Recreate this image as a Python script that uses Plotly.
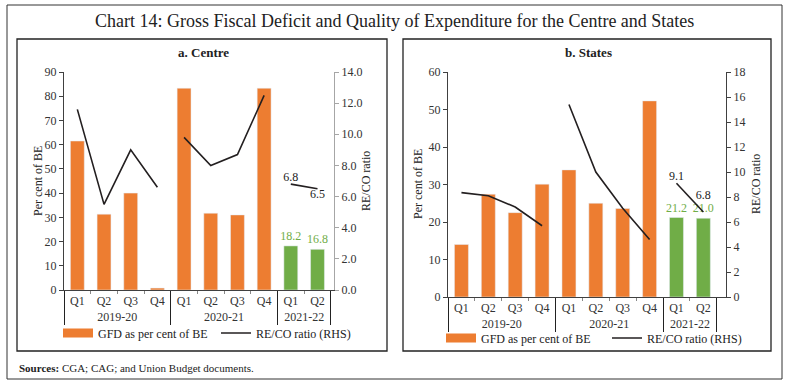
import plotly.graph_objects as go

# ---------------- data ----------------
years = ["2019-20"] * 4 + ["2020-21"] * 4 + ["2021-22"] * 2
quarters = ["Q1", "Q2", "Q3", "Q4", "Q1", "Q2", "Q3", "Q4", "Q1", "Q2"]

centre_gfd = [61.5, 31.3, 40.0, 0.8, 83.3, 31.7, 31.0, 83.3, 18.2, 16.8]
centre_reco = [11.6, 5.5, 9.0, 6.6, 9.8, 8.0, 8.7, 12.5, 6.8, 6.5]

states_gfd = [14.0, 27.4, 22.5, 30.1, 33.9, 25.0, 23.6, 52.3, 21.2, 21.0]
states_reco = [8.35, 8.1, 7.2, 5.7, 15.4, 10.0, 7.1, 4.6, 9.1, 6.8]

latest_year = "2021-22"

ORANGE = "#ED7D31"
GREEN = "#70AD47"
LINE = "#231F20"
FONT = "Liberation Serif"

W, H = 788, 387

fig = go.Figure()


def px_x(v):
    return v / W


def px_y(v):
    return 1 - v / H


def add_panel(gfd, reco, xa, ya, ya2, legend, label_pos, label_pad):
    xs_old = [[y for y in years if y != latest_year], [q for y, q in zip(years, quarters) if y != latest_year]]
    vals_old = [v for y, v in zip(years, gfd) if y != latest_year]
    xs_new = [[y for y in years if y == latest_year], [q for y, q in zip(years, quarters) if y == latest_year]]
    vals_new = [v for y, v in zip(years, gfd) if y == latest_year]
    fig.add_trace(go.Bar(x=xs_old, y=vals_old, marker_color=ORANGE, xaxis=xa, yaxis=ya,
                         showlegend=False, hoverinfo="skip"))
    fig.add_trace(go.Bar(x=xs_new, y=vals_new, marker_color=GREEN, xaxis=xa, yaxis=ya,
                         text=[f"{v:.1f}" for v in vals_new], textposition="outside",
                         constraintext="none",
                         textfont=dict(color=GREEN, size=12, family=FONT),
                         cliponaxis=False, showlegend=False, hoverinfo="skip"))
    # legend proxy for bars
    fig.add_trace(go.Scatter(x=[None], y=[None], mode="lines", line=dict(color=ORANGE, width=9),
                             name="GFD as per cent of BE", xaxis=xa, yaxis=ya, legend=legend))
    seen = []
    for yr in years:
        if yr in seen:
            continue
        seen.append(yr)
        qs = [q for y, q in zip(years, quarters) if y == yr]
        vs = [v for y, v in zip(years, reco) if y == yr]
        if yr == latest_year:
            kw = dict(mode="lines+markers+text", text=[f"{v:.1f}" for v in vs], textposition=label_pos,
                      marker=dict(size=label_pad, color="rgba(0,0,0,0)", line=dict(width=0)),
                      textfont=dict(size=12, color="#222", family=FONT))
        else:
            kw = dict(mode="lines")
        fig.add_trace(go.Scatter(x=[[yr] * len(qs), qs], y=vs, line=dict(color=LINE, width=1.6),
                                 xaxis=xa, yaxis=ya2, name="RE/CO ratio (RHS)",
                                 showlegend=(yr == years[0]), legend=legend, cliponaxis=False,
                                 hoverinfo="skip", **kw))


add_panel(centre_gfd, centre_reco, "x", "y", "y2", "legend", ["top center", "bottom center"], [0, 0])
add_panel(states_gfd, states_reco, "x2", "y3", "y4", "legend2", ["top center", "top center"], [0, 14])

tickfont = dict(family=FONT, size=12, color="#333")
xcommon = dict(type="multicategory", showline=True, linecolor="#404040", linewidth=1,
               ticks="outside", ticklen=3, tickcolor="#888", tickfont=tickfont, tickangle=0,
               dividercolor="#222", dividerwidth=1, showgrid=False, zeroline=False,
               fixedrange=True)
ycommon = dict(showline=True, linewidth=1, ticks="outside", ticklen=4, tickfont=tickfont,
               showgrid=False, zeroline=False, fixedrange=True)

left_x = [px_x(64), px_x(334)]
right_x = [px_x(448), px_x(726)]
left_y = [px_y(290), px_y(72)]
right_y = [px_y(297), px_y(72)]

fig.update_layout(
    width=W, height=H,
    margin=dict(l=0, r=0, t=0, b=0, autoexpand=False),
    paper_bgcolor="white", plot_bgcolor="white",
    font=dict(family=FONT, size=12, color="#222"),
    barmode="overlay", bargap=0.48,
    xaxis=dict(domain=left_x, anchor="y", **xcommon),
    yaxis=dict(domain=left_y, range=[0, 90], dtick=10, linecolor="#404040", tickcolor="#404040", **ycommon),
    yaxis2=dict(overlaying="y", side="right", anchor="x", range=[0, 14], dtick=2, tickformat=".1f",
                linecolor="#A6A6A6", tickcolor="#A6A6A6", **ycommon),
    xaxis2=dict(domain=right_x, anchor="y3", **xcommon),
    yaxis3=dict(domain=right_y, anchor="x2", range=[0, 60], dtick=10, linecolor="#404040", tickcolor="#404040", **ycommon),
    yaxis4=dict(overlaying="y3", side="right", anchor="x2", range=[0, 18], dtick=2,
                linecolor="#404040", tickcolor="#404040", **ycommon),
    legend=dict(orientation="h", x=px_x(58), y=px_y(333), xanchor="left", yanchor="middle",
                entrywidth=113, entrywidthmode="pixels", itemwidth=30,
                font=dict(family=FONT, size=12, color="#222"), bgcolor="rgba(0,0,0,0)"),
    legend2=dict(orientation="h", x=px_x(441), y=px_y(338), xanchor="left", yanchor="middle",
                 entrywidth=121, entrywidthmode="pixels", itemwidth=30,
                 font=dict(family=FONT, size=12, color="#222"), bgcolor="rgba(0,0,0,0)"),
)

shapes = [
    dict(type="rect", xref="paper", yref="paper", x0=px_x(7), x1=px_x(782), y0=px_y(379), y1=px_y(5),
         line=dict(color="#333", width=1)),
    dict(type="rect", xref="paper", yref="paper", x0=px_x(17), x1=px_x(387), y0=px_y(351), y1=px_y(39),
         line=dict(color="#222", width=1.3)),
    dict(type="rect", xref="paper", yref="paper", x0=px_x(403), x1=px_x(771), y0=px_y(351), y1=px_y(39),
         line=dict(color="#222", width=1.3)),
]
fig.update_layout(shapes=shapes)

annotations = [
    dict(text="Chart 14: Gross Fiscal Deficit and Quality of Expenditure for the Centre and States",
         x=px_x(394), y=px_y(21), font=dict(size=18, family=FONT, color="#222")),
    dict(text="<b>a. Centre</b>", x=px_x(203), y=px_y(53), font=dict(size=13, family=FONT, color="#222")),
    dict(text="<b>b. States</b>", x=px_x(588), y=px_y(53), font=dict(size=13, family=FONT, color="#222")),
    dict(text="Per cent of BE", x=px_x(38), y=px_y(181), textangle=-90, font=dict(size=12, family=FONT, color="#222")),
    dict(text="RE/CO ratio", x=px_x(366), y=px_y(181), textangle=-90, font=dict(size=12, family=FONT, color="#222")),
    dict(text="Per cent of BE", x=px_x(418), y=px_y(184), textangle=-90, font=dict(size=12, family=FONT, color="#222")),
    dict(text="RE/CO ratio", x=px_x(756), y=px_y(184), textangle=-90, font=dict(size=12, family=FONT, color="#222")),
    dict(text="<b>Sources:</b> CGA; CAG; and Union Budget documents.", x=px_x(17), y=px_y(368),
         xanchor="left", font=dict(size=11, family=FONT, color="#222")),
]
for a in annotations:
    a.setdefault("xref", "paper")
    a.setdefault("yref", "paper")
    a.setdefault("showarrow", False)
    a.setdefault("xanchor", "center")
    a.setdefault("yanchor", "middle")
fig.update_layout(annotations=annotations)

fig.write_html("out.html", config={"displayModeBar": False},
               post_script="document.body.style.margin='0';document.body.style.overflow='hidden';")
